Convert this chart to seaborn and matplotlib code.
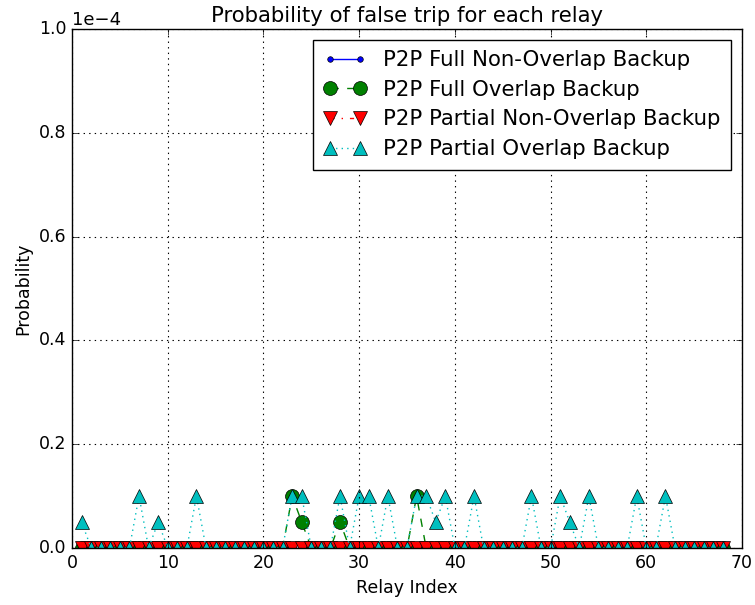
import matplotlib
matplotlib.use("Agg")
import matplotlib.pyplot as plt
import seaborn as sns

plt.style.use("classic")

# Relay indices 1..68
relay_index = list(range(1, 69))

full_non_overlap = [0.0] * 68

full_overlap = [
    0, 0, 0, 0, 0, 0, 0, 0, 0, 0,        # 1-10
    0, 0, 0, 0, 0, 0, 0, 0, 0, 0,        # 11-20
    0, 0, 1e-5, 5e-6, 0, 0, 0, 5e-6, 0, 0,  # 21-30
    0, 0, 0, 0, 0, 1e-5, 0, 0, 0, 0,     # 31-40
    0, 0, 0, 0, 0, 0, 0, 0, 0, 0,        # 41-50
    0, 0, 0, 0, 0, 0, 0, 0, 0, 0,        # 51-60
    0, 0, 0, 0, 0, 0, 0, 0,              # 61-68
]

partial_non_overlap = [0.0] * 68

partial_overlap = [
    5e-6, 0, 0, 0, 0, 0, 1e-5, 0, 5e-6, 0,      # 1-10
    0, 0, 1e-5, 0, 0, 0, 0, 0, 0, 0,            # 11-20
    0, 0, 1e-5, 1e-5, 0, 0, 0, 1e-5, 0, 1e-5,   # 21-30
    1e-5, 0, 1e-5, 0, 0, 1e-5, 1e-5, 5e-6, 1e-5, 0,  # 31-40
    0, 1e-5, 0, 0, 0, 0, 0, 1e-5, 0, 0,         # 41-50
    1e-5, 5e-6, 0, 1e-5, 0, 0, 0, 0, 1e-5, 0,   # 51-60
    0, 1e-5, 0, 0, 0, 0, 0, 0,                  # 61-68
]

series = [
    ("P2P Full Non-Overlap Backup", full_non_overlap, "b", ".", "-", 8),
    ("P2P Full Overlap Backup", full_overlap, "g", "o", "--", 10),
    ("P2P Partial Non-Overlap Backup", partial_non_overlap, "r", "v", "-.", 10),
    ("P2P Partial Overlap Backup", partial_overlap, "c", "^", ":", 10),
]

fig = plt.figure(figsize=(7.55, 6.05), dpi=100)
ax = fig.add_axes([0.0954, 0.0942, 0.8874, 0.8578])

for label, values, color, marker, ls, ms in series:
    sns.lineplot(
        x=relay_index, y=values, ax=ax, label=label,
        color=color, marker=marker, linestyle=ls, markersize=ms,
        markeredgecolor="k", markeredgewidth=0.5,
        estimator=None, sort=False, legend=False,
    )

ax.set_xlim(0, 70)
ax.set_ylim(0, 1e-4)
ax.set_xticks([0, 10, 20, 30, 40, 50, 60, 70])
ax.set_yticks([0, 2e-5, 4e-5, 6e-5, 8e-5, 1e-4])
ax.ticklabel_format(axis="y", style="sci", scilimits=(0, 0))
ax.yaxis.get_offset_text().set_fontsize(13)
ax.grid(True, color="k", linestyle=":", linewidth=0.8)
ax.set_xlabel("Relay Index", fontsize=12.5)
ax.set_ylabel("Probability", fontsize=12.5)
ax.set_title("Probability of false trip for each relay", fontsize=15.3)
ax.tick_params(labelsize=12.5)
ax.legend(loc="upper right", numpoints=2, fontsize=15.3,
          borderaxespad=0.5, labelspacing=0.45, handlelength=2.0,
          borderpad=0.5)

fig.savefig("out.png", dpi=100)
